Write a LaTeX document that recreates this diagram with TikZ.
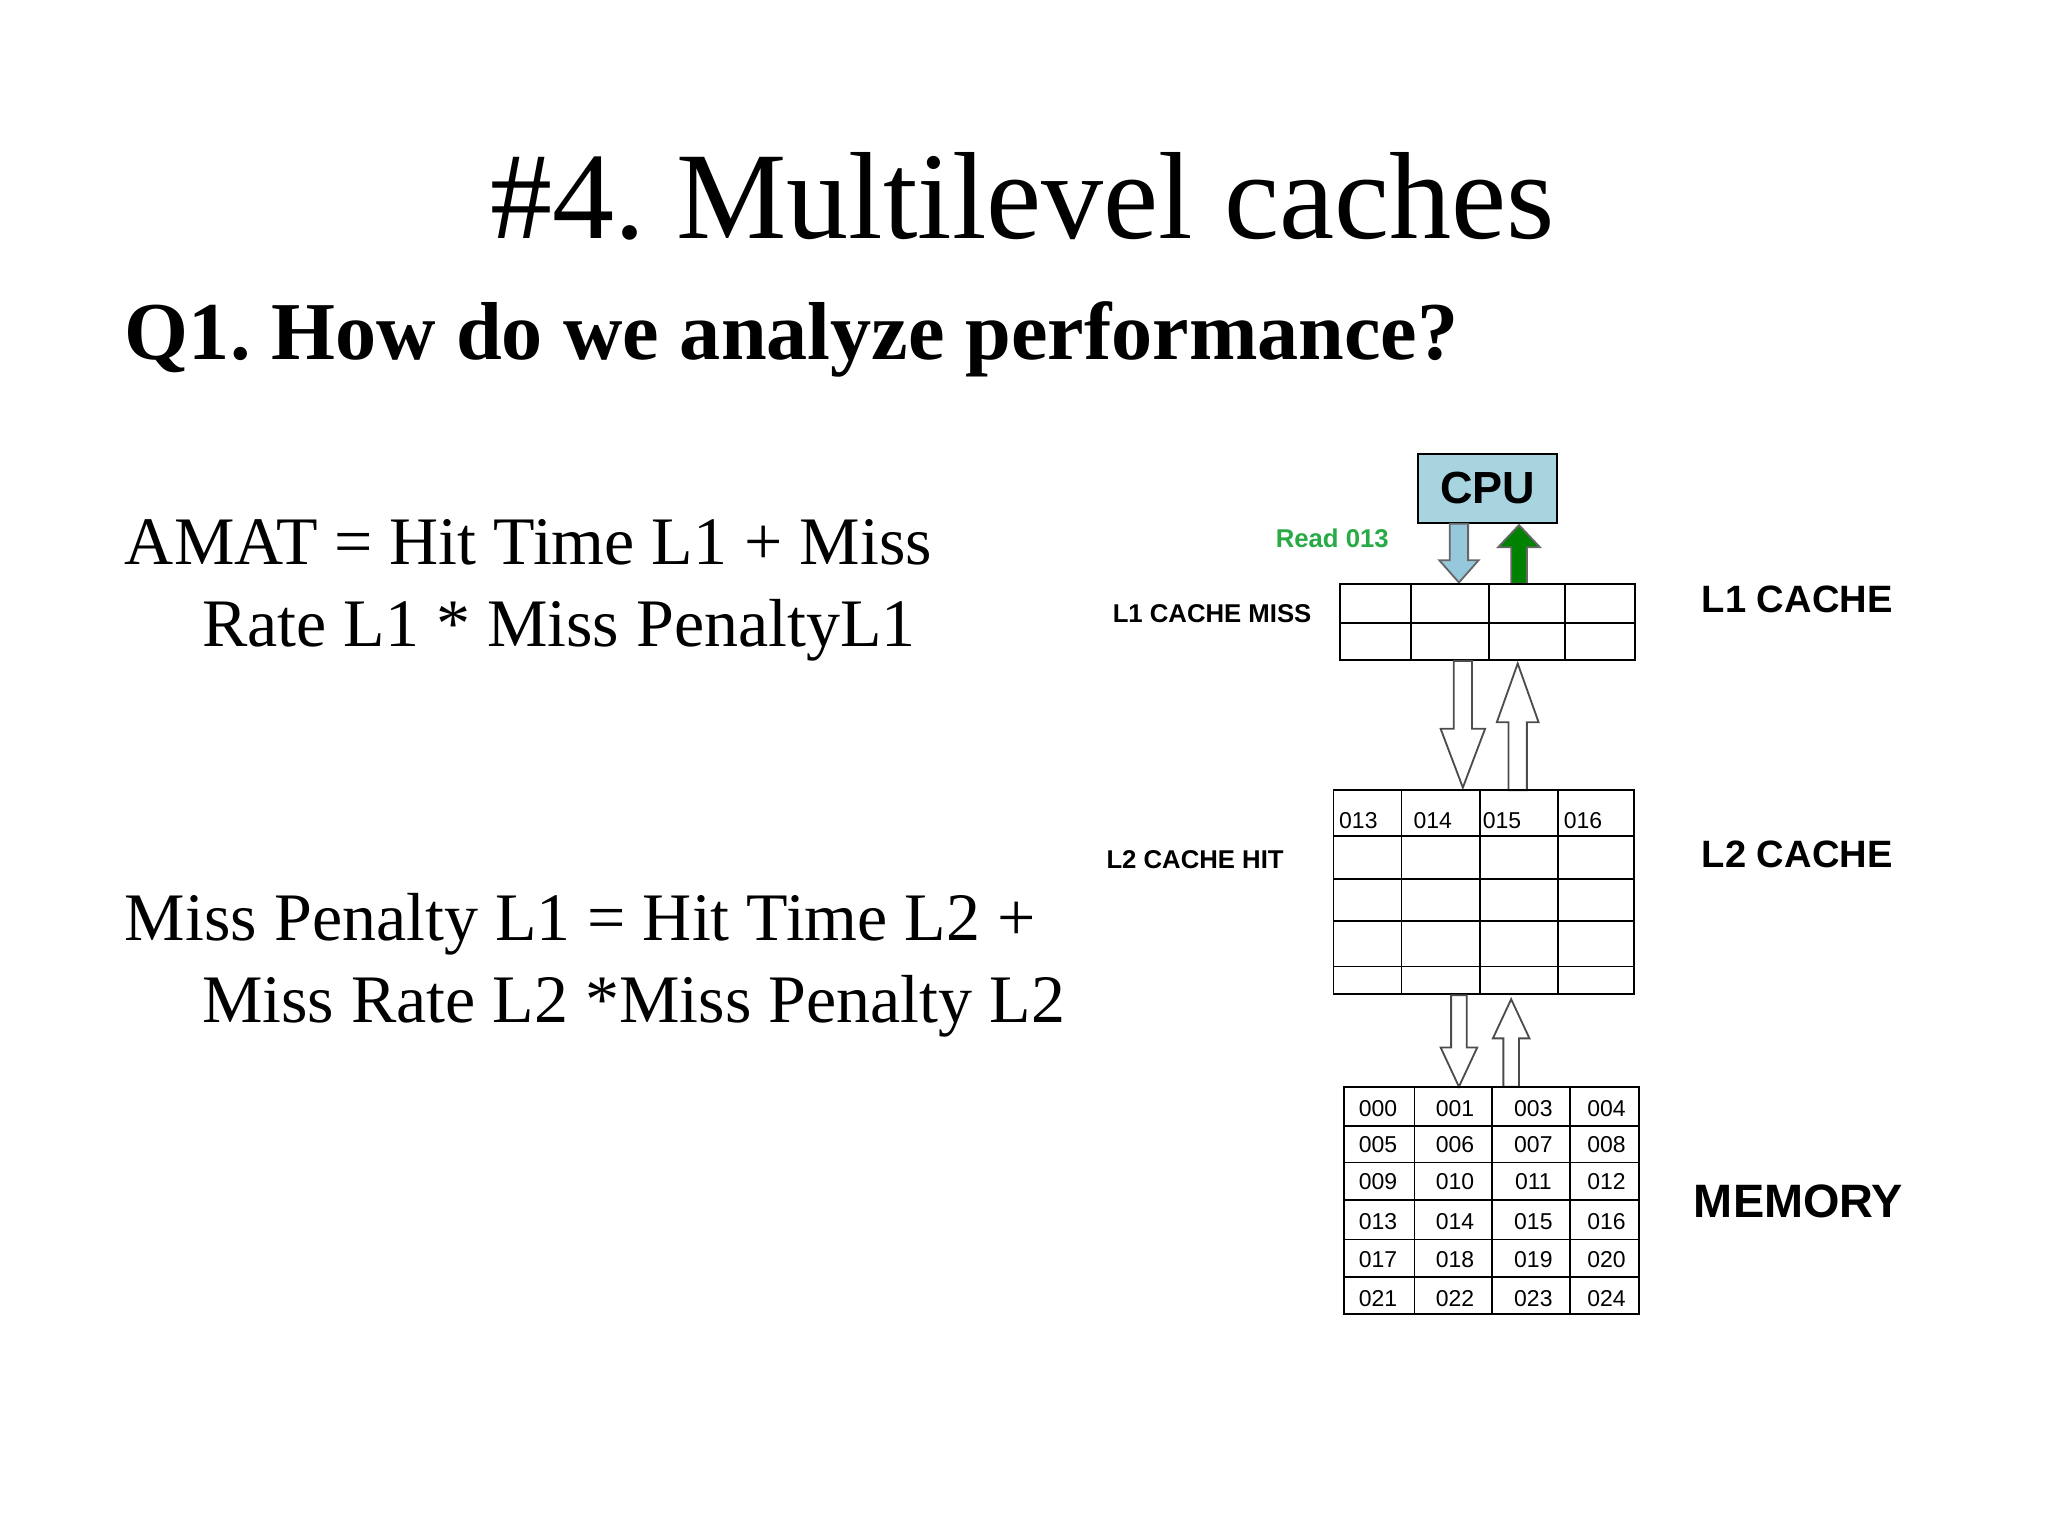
\documentclass[tikz,border=0pt]{standalone}
\usepackage{fontspec}
\setmainfont{Liberation Serif}
\setsansfont{Liberation Sans}
\frenchspacing
\definecolor{cpublue}{RGB}{168,212,224}
\definecolor{arrblue}{RGB}{150,200,220}
\definecolor{grn}{RGB}{0,130,0}
\definecolor{rdgrn}{RGB}{40,170,70}
\newcommand\blkarrow[7]{\draw[#7] ({#1-#4},#2) -- ({#1-#4},{#3-#6}) -- ({#1-#5},{#3-#6}) -- (#1,#3) -- ({#1+#5},{#3-#6}) -- ({#1+#4},{#3-#6}) -- ({#1+#4},#2) -- cycle;}
\tikzset{
 lbl/.style={font=\sffamily\bfseries\fontsize{5.6}{6}\selectfont},
 big/.style={font=\sffamily\bfseries\fontsize{8.3}{9}\selectfont},
 cell/.style={font=\sffamily\fontsize{5}{6}\selectfont},
 eq/.style={font=\fontsize{14.8}{17}\selectfont,anchor=base west,inner sep=0pt},
}
\begin{document}
\begin{tikzpicture}[x=0.01cm,y=-0.01cm]
\useasboundingbox (0,0) rectangle (1568,1176);
\node (title) at (783,150) {\fontsize{27}{30}\selectfont \#4. Multilevel caches};
\node[anchor=base west,inner sep=0pt] (q1) at (95,275) {\fontsize{17.9}{20}\selectfont\bfseries Q1. How do we analyze performance?};
\node[eq] (a1) at (95,432) {AMAT = Hit Time L1 + Miss};
\node[eq] (a2) at (154,495) {Rate L1 * Miss PenaltyL1};
\node[eq] (m1) at (95,720) {Miss Penalty L1 = Hit Time L2 +};
\node[eq] (m2) at (154,783) {Miss Rate L2 *Miss Penalty L2};
% CPU
\node[draw,fill=cpublue,minimum width=1.06cm,minimum height=0.53cm,inner sep=0pt,font=\sffamily\bfseries\fontsize{9.8}{11}\selectfont] (cpu) at (1139,374) {CPU};
\node[lbl,text=rdgrn] (rd) at (1020,412) {Read 013};
\blkarrow{1117}{401}{446}{7}{15}{17}{draw=black!60,fill=arrblue,thin}
\blkarrow{1163}{447}{402}{6}{16}{-17}{draw=black!60,fill=grn,thin}
% L1
\draw (1026,447) rectangle (1252,505);
\foreach \x in {1080,1140,1198} \draw (\x,447) -- (\x,505);
\draw (1026,477) -- (1252,477);
\node[lbl] (l1m) at (928,470) {L1 CACHE MISS};
\node[big] (l1) at (1376,459) {L1 CACHE};
\blkarrow{1120}{506}{603}{7}{17}{45}{draw=black!70,fill=white}
\blkarrow{1162}{605}{508}{7}{16}{-45}{draw=black!70,fill=white}
% L2
\draw (1021,605) rectangle (1251,761);
\foreach \x in {1073,1133,1193} \draw (\x,605) -- (\x,761);
\foreach \y in {640,673,705,740} \draw (1021,\y) -- (1251,\y);
\foreach \x/\t in {1040/013,1097/014,1150/015,1212/016} \node[cell] at (\x,628) {\t};
\node[lbl] (l2h) at (915,658) {L2 CACHE HIT};
\node[big] (l2) at (1376,654) {L2 CACHE};
\blkarrow{1117}{762}{832}{6}{14}{30}{draw=black!70,fill=white}
\blkarrow{1157}{832}{765}{6}{14}{-30}{draw=black!70,fill=white}
% memory
\draw (1029,832) rectangle (1255,1006);
\foreach \x in {1083,1142,1202} \draw (\x,832) -- (\x,1006);
\foreach \y in {862,890,919,949,978} \draw (1029,\y) -- (1255,\y);
\foreach \r/\y in {0/849,1/876,2/905,3/935,4/964,5/994}{
  \foreach \c/\x in {0/1055,1/1114,2/1174,3/1230}{
    \pgfmathtruncatemacro\v{\r==0 ? (\c<2 ? \c : \c+1) : 4*\r+\c+1}
    \node[cell] at (\x,\y) {\ifnum\v<10 00\else0\fi\v};
  }
}
\node[font=\sffamily\bfseries\fontsize{10.2}{11}\selectfont] (mem) at (1377,920) {MEMORY};
\end{tikzpicture}
\end{document}
